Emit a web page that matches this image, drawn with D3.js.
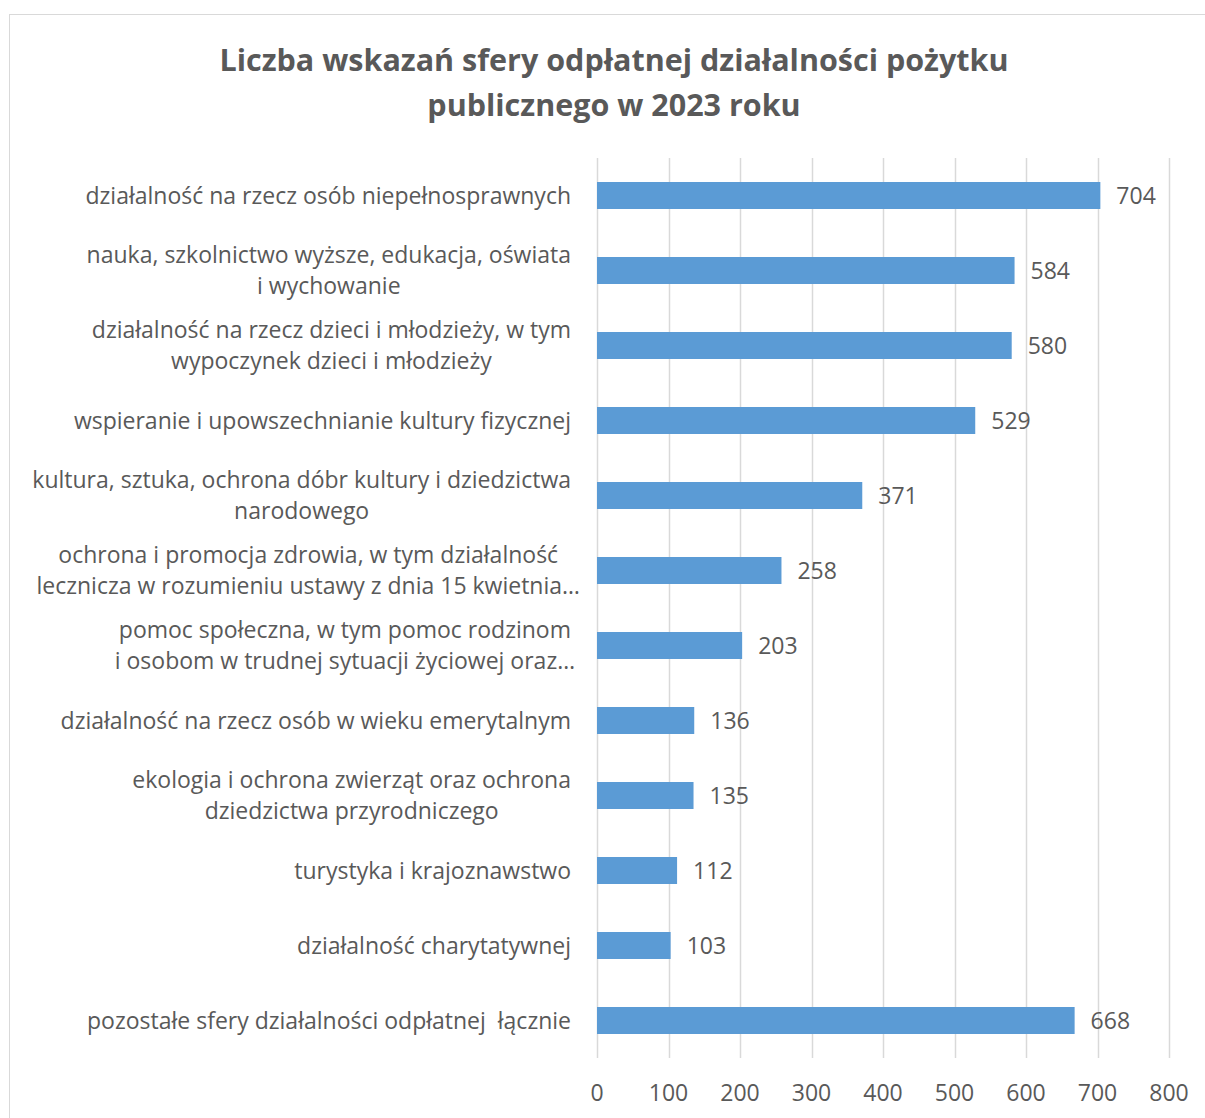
<!DOCTYPE html>
<html>
<head>
<meta charset="utf-8">
<script src="https://cdn.jsdelivr.net/npm/d3@7"></script>
<style>
  body { margin: 0; background: #fff; }
  text { font-family: "Open Sans", sans-serif; fill: #595959; white-space: pre; }
</style>
</head>
<body>
<div id="chart"></div>
<script>
// Data
const categories = [
  ["działalność na rzecz osób niepełnosprawnych"],
  ["nauka, szkolnictwo wyższe, edukacja, oświata", "i wychowanie"],
  ["działalność na rzecz dzieci i młodzieży, w tym", "wypoczynek dzieci i młodzieży"],
  ["wspieranie i upowszechnianie kultury fizycznej"],
  ["kultura, sztuka, ochrona dóbr kultury i dziedzictwa", "narodowego"],
  ["ochrona i promocja zdrowia, w tym działalność", "lecznicza w rozumieniu ustawy z dnia 15 kwietnia…"],
  ["pomoc społeczna, w tym pomoc rodzinom", "i osobom w trudnej sytuacji życiowej oraz…"],
  ["działalność na rzecz osób w wieku emerytalnym"],
  ["ekologia i ochrona zwierząt oraz ochrona", "dziedzictwa przyrodniczego"],
  ["turystyka i krajoznawstwo"],
  ["działalność charytatywnej"],
  ["pozostałe sfery działalności odpłatnej  łącznie"]
];
const values = [704, 584, 580, 529, 371, 258, 203, 136, 135, 112, 103, 668];
const xTicks = [0, 100, 200, 300, 400, 500, 600, 700, 800];
const titleLines = ["Liczba wskazań sfery odpłatnej działalności pożytku", "publicznego w 2023 roku"];

const W = 1205, H = 1118;
const plot = { left: 597, right: 1169, top: 158, bottom: 1058 };
const labelRight = 571;
const fontSize = 23;

const svg = d3.select("#chart").append("svg")
    .attr("width", W)
    .attr("height", H);

// chart frame
svg.append("rect")
    .attr("x", 9.5).attr("y", 14.5)
    .attr("width", W + 20).attr("height", H + 20)
    .attr("fill", "#fff")
    .attr("stroke", "#d9d9d9")
    .attr("stroke-width", 1);

// title
svg.append("text")
    .attr("x", 614)
    .attr("y", 71)
    .attr("text-anchor", "middle")
    .attr("font-size", "30.5px")
    .attr("font-weight", "bold")
    .selectAll("tspan")
    .data(titleLines)
    .enter().append("tspan")
    .attr("x", 614)
    .attr("dy", (d, i) => i === 0 ? 0 : 45)
    .text(d => d);

const x = d3.scaleLinear().domain([0, 800]).range([plot.left, plot.right]);
const y = d3.scaleBand()
    .domain(d3.range(categories.length))
    .range([plot.top, plot.bottom])
    .paddingInner(0.64)
    .paddingOuter(0.32);

// gridlines
svg.append("g")
    .selectAll("line")
    .data(xTicks)
    .enter().append("line")
    .attr("x1", d => Math.round(x(d)) + 0.5)
    .attr("x2", d => Math.round(x(d)) + 0.5)
    .attr("y1", plot.top)
    .attr("y2", plot.bottom)
    .attr("stroke", "#d9d9d9")
    .attr("stroke-width", 1.5);

// x tick labels
svg.append("g")
    .selectAll("text")
    .data(xTicks)
    .enter().append("text")
    .attr("x", d => x(d))
    .attr("y", 1101)
    .attr("text-anchor", "middle")
    .attr("font-size", fontSize + "px")
    .text(d => d);

// bars
svg.append("g")
    .selectAll("rect")
    .data(values)
    .enter().append("rect")
    .attr("x", x(0))
    .attr("y", (d, i) => y(i))
    .attr("width", d => x(d) - x(0))
    .attr("height", y.bandwidth())
    .attr("fill", "#5b9bd5");

// value labels
svg.append("g")
    .selectAll("text")
    .data(values)
    .enter().append("text")
    .attr("x", d => x(d) + 16)
    .attr("y", (d, i) => y(i) + y.bandwidth() / 2)
    .attr("dy", "0.35em")
    .attr("font-size", fontSize + "px")
    .text(d => d);

// category labels, lines centred inside a right-aligned block
const lineGap = 31.5;
const catG = svg.append("g");
categories.forEach((lines, i) => {
    const cy = y(i) + y.bandwidth() / 2;
    const g = catG.append("g");
    const texts = lines.map((t, j) => g.append("text")
        .attr("y", cy + (j - (lines.length - 1) / 2) * lineGap)
        .attr("dy", "0.35em")
        .attr("font-size", fontSize + "px")
        .attr("text-anchor", "middle")
        .text(t));
    // measure width without the trailing ellipsis
    const widths = lines.map(t => {
        const tmp = g.append("text").attr("font-size", fontSize + "px").text(t.replace(/…$/, ""));
        const w = tmp.node().getComputedTextLength();
        tmp.remove();
        return w;
    });
    const cx = labelRight - d3.max(widths) / 2;
    texts.forEach(t => t.attr("x", cx));
});
</script>
</body>
</html>
